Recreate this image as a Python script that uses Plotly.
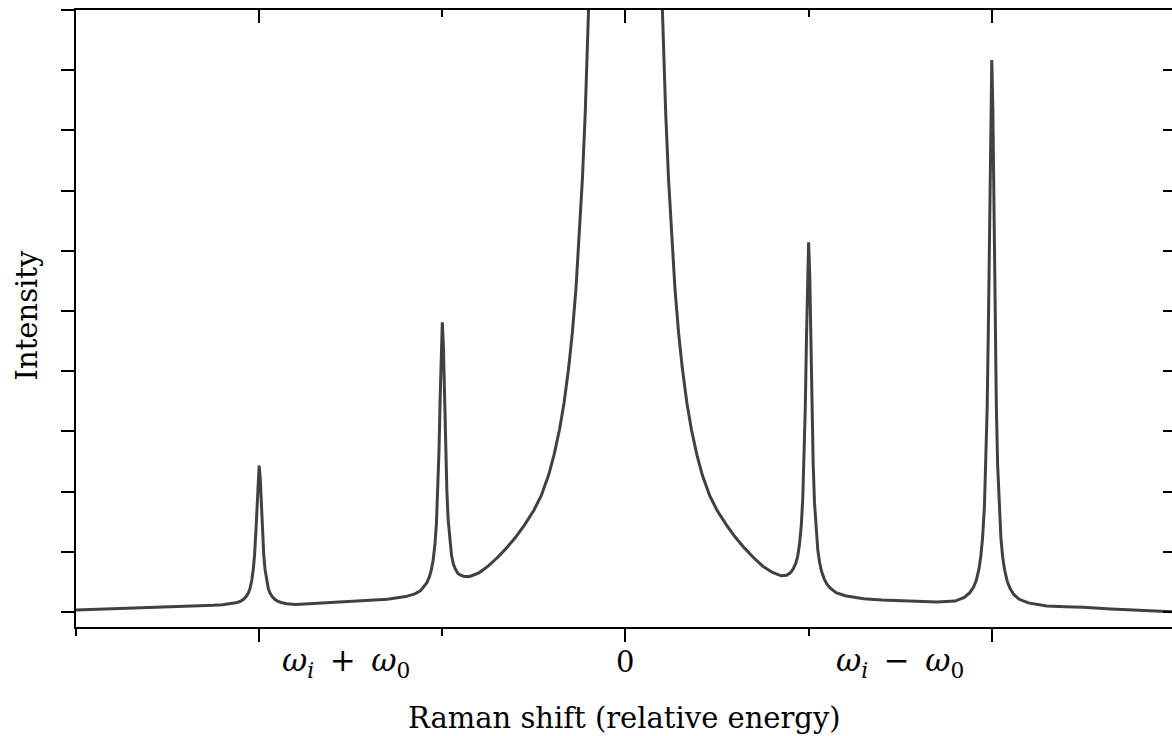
import plotly.graph_objects as go

# Raman spectrum: x = Raman shift (relative energy), y = intensity (tick units)
shift = [
    -3.0, -2.87, -2.7, -2.5, -2.35, -2.25, -2.2,
    -2.15, -2.12, -2.1, -2.085, -2.07, -2.06, -2.05, -2.04, -2.032, -2.025, -2.018, -2.012, -2.006, -2.0,
    -1.994, -1.988, -1.982, -1.975, -1.968, -1.96, -1.95, -1.94, -1.93, -1.915, -1.9, -1.88, -1.85, -1.8,
    -1.7, -1.6, -1.5, -1.4, -1.3,
    -1.2, -1.15, -1.12, -1.1, -1.085, -1.07, -1.06, -1.05, -1.04, -1.032, -1.025, -1.018, -1.012, -1.006, -1.0,
    -0.994, -0.988, -0.982, -0.975, -0.968, -0.96, -0.95, -0.94, -0.93, -0.915, -0.9, -0.88, -0.85, -0.8,
    -0.75, -0.7, -0.65, -0.6, -0.55, -0.5, -0.46, -0.42, -0.39, -0.36, -0.335, -0.31, -0.29, -0.27,
    -0.25, -0.235, -0.22, -0.21, -0.2, -0.19, -0.15, -0.1, 0.0,
    0.1, 0.15, 0.19, 0.2, 0.21, 0.22, 0.235, 0.25,
    0.27, 0.29, 0.31, 0.335, 0.36, 0.39, 0.42, 0.46, 0.5, 0.55, 0.6, 0.65, 0.7, 0.75,
    0.8, 0.85, 0.88, 0.9, 0.915, 0.93, 0.94, 0.95, 0.96, 0.968, 0.975, 0.982, 0.988, 0.994, 1.0,
    1.006, 1.012, 1.018, 1.025, 1.032, 1.04, 1.05, 1.06, 1.07, 1.085, 1.1, 1.12, 1.15, 1.2,
    1.3, 1.4, 1.5, 1.6, 1.7,
    1.8, 1.85, 1.88, 1.9, 1.915, 1.93, 1.94, 1.95, 1.96, 1.968, 1.975, 1.982, 1.988, 1.994, 2.0,
    2.006, 2.012, 2.018, 2.025, 2.032, 2.04, 2.05, 2.06, 2.07, 2.085, 2.1, 2.12, 2.15, 2.2,
    2.3, 2.4, 2.5, 2.65, 2.8, 2.985,
]
intensity = [
    0.033, 0.045, 0.058, 0.078, 0.095, 0.11, 0.12,
    0.137, 0.157, 0.18, 0.21, 0.26, 0.31, 0.39, 0.53, 0.71, 0.95, 1.33, 1.77, 2.22, 2.43,
    2.22, 1.77, 1.33, 0.95, 0.71, 0.53, 0.39, 0.31, 0.26, 0.21, 0.18, 0.157, 0.137, 0.125,
    0.14, 0.16, 0.18, 0.195, 0.21,
    0.255, 0.30, 0.35, 0.42, 0.48, 0.59, 0.70, 0.86, 1.13, 1.48, 1.96, 2.68, 3.53, 4.40, 4.81,
    4.41, 3.55, 2.71, 2.00, 1.53, 1.20, 0.95, 0.80, 0.72, 0.64, 0.61, 0.59, 0.59, 0.65,
    0.76, 0.90, 1.06, 1.24, 1.45, 1.69, 1.93, 2.27, 2.61, 3.03, 3.48, 4.06, 4.64, 5.38,
    6.32, 7.2, 8.26, 9.05, 10.0, 11.1, 17.8, 30.0, 45.0,
    30.0, 17.8, 11.1, 10.0, 9.05, 8.26, 7.2, 6.32,
    5.38, 4.64, 4.06, 3.48, 3.03, 2.61, 2.27, 1.93, 1.69, 1.45, 1.24, 1.06, 0.90, 0.76,
    0.66, 0.60, 0.61, 0.65, 0.71, 0.81, 0.92, 1.12, 1.44, 1.88, 2.48, 3.41, 4.50, 5.62, 6.14,
    5.61, 4.48, 3.38, 2.44, 1.82, 1.37, 1.03, 0.82, 0.68, 0.55, 0.46, 0.39, 0.32, 0.27,
    0.22, 0.20, 0.19, 0.175, 0.165,
    0.18, 0.24, 0.32, 0.41, 0.52, 0.71, 0.92, 1.24, 1.76, 2.45, 3.41, 4.87, 6.58, 8.34, 9.17,
    8.34, 6.58, 4.87, 3.41, 2.44, 1.75, 1.22, 0.90, 0.70, 0.50, 0.39, 0.29, 0.21, 0.15,
    0.10, 0.088, 0.078, 0.05, 0.03, 0.005,
]

x_major_ticks = [-2, 0, 2]
x_minor_ticks = [-3, -1, 1, 3]
y_ticks = [0, 1, 2, 3, 4, 5, 6, 7, 8, 9, 10]
x_range = [-3.0, 2.984]
y_range = [-0.25, 10.0]

label_pos = [-1.526, 0.0, 1.499]
label_text = [
    "<i>ω</i><sub><i>i</i></sub>\u2002+\u2002<i>ω</i><sub>0</sub>",
    "0",
    "<i>ω</i><sub><i>i</i></sub>\u2002−\u2002<i>ω</i><sub>0</sub>",
]
label_size = [31, 29, 31]

SERIF = "DejaVu Serif, Liberation Serif, serif"

fig = go.Figure()
fig.add_trace(go.Scatter(
    x=shift, y=intensity, mode="lines",
    line=dict(color="#414141", width=3),
    hoverinfo="skip", showlegend=False,
))
fig.add_trace(go.Scatter(
    x=[None], y=[None], xaxis="x2", yaxis="y2", mode="lines",
    showlegend=False, hoverinfo="skip",
))

common_x = dict(range=x_range, showgrid=False, zeroline=False, showticklabels=False,
                showline=True, linecolor="black", linewidth=2,
                tickvals=x_major_ticks, tickwidth=2, tickcolor="black")

fig.update_layout(
    width=1172, height=736,
    margin=dict(l=76, r=0, t=10, b=109),
    plot_bgcolor="white", paper_bgcolor="white",
    showlegend=False,
    xaxis=dict(**common_x, ticks="outside", ticklen=13,
               minor=dict(tickvals=x_minor_ticks, ticks="outside", ticklen=7,
                          tickwidth=2, tickcolor="black", showgrid=False)),
    xaxis2=dict(**common_x, overlaying="x", side="top", anchor="y",
                ticks="inside", ticklen=13,
                minor=dict(tickvals=x_minor_ticks, ticks="inside", ticklen=7,
                           tickwidth=2, tickcolor="black", showgrid=False)),
    yaxis=dict(range=y_range, showgrid=False, zeroline=False, showticklabels=False,
               showline=True, linecolor="black", linewidth=2,
               tickvals=y_ticks, ticks="outside", ticklen=13, tickwidth=2, tickcolor="black"),
    yaxis2=dict(range=y_range, overlaying="y", side="right", anchor="x",
                showgrid=False, zeroline=False, showticklabels=False, showline=False,
                tickvals=y_ticks, ticks="inside", ticklen=9, tickwidth=2, tickcolor="black"),
)

for xp, txt, sz in zip(label_pos, label_text, label_size):
    fig.add_annotation(x=xp, xref="x", y=-0.057, yref="paper", text=txt,
                       showarrow=False, xanchor="center", yanchor="middle",
                       font=dict(family=SERIF, size=sz, color="black"))

fig.add_annotation(x=0.5, xref="paper", y=-0.148, yref="paper",
                   text="Raman shift (relative energy)", showarrow=False,
                   xanchor="center", yanchor="middle",
                   font=dict(family=SERIF, size=29, color="black"))
fig.add_annotation(x=-0.0447, xref="paper", y=0.505, yref="paper",
                   text="Intensity", textangle=-90, showarrow=False,
                   xanchor="center", yanchor="middle",
                   font=dict(family=SERIF, size=29, color="black"))

fig.write_html(
    "out.html",
    config={"displayModeBar": False},
    post_script="document.body.style.margin='0';document.body.style.overflow='hidden';",
)
